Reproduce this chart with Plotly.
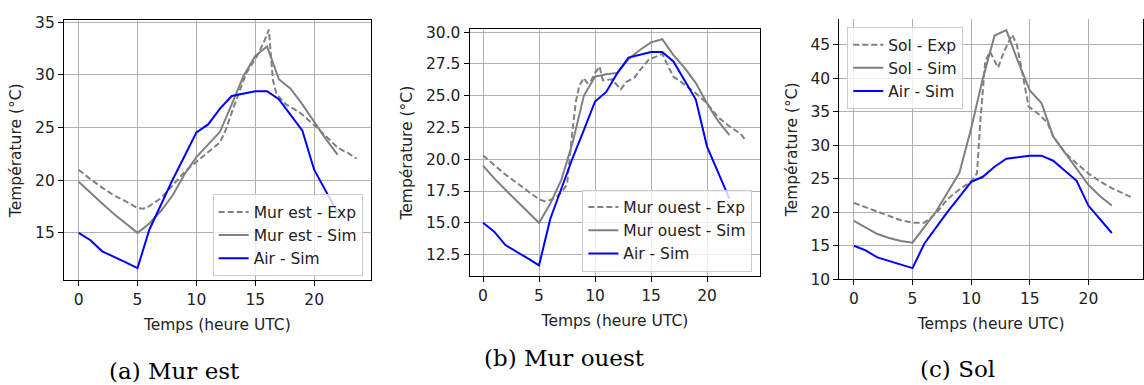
import plotly.graph_objects as go

# heures de simulation (pas horaire)
hours_sim = list(range(0, 23))

# air - simulation (identique sur les 3 panneaux)
air_sim = [15.0, 14.3, 13.25, 12.75, 12.2, 11.65, 15.3, 17.7, 20.1, 22.3, 24.55, 25.3,
           26.8, 28.0, 28.2, 28.45, 28.45, 27.7, 26.2, 24.7, 21.0, 18.9, 16.9]

# (a) mur est
est_sim = [19.85, 18.8, 17.8, 16.8, 15.9, 15.0, 15.9, 17.1, 18.6, 20.6, 22.2, 23.4,
           24.6, 27.2, 29.9, 31.8, 32.7, 29.6, 28.7, 27.2, 25.5, 23.9, 22.4]
est_exp_t = [0, 1, 2, 3, 4, 5, 5.5, 6, 7, 8, 9, 10, 11, 12, 12.5, 13.1, 14.2, 15.2, 15.8,
             16.15, 16.5, 16.8, 17.6, 18.75, 20, 21, 22, 23, 23.6]
est_exp = [21.0, 20.1, 19.3, 18.55, 18.0, 17.35, 17.3, 17.55, 18.3, 19.5, 20.8, 21.75, 22.65,
           23.6, 24.8, 26.75, 30.1, 31.9, 33.3, 34.3, 29.5, 28.2, 27.2, 26.45, 25.25, 24.2,
           23.1, 22.5, 22.05]

# (b) mur ouest
ouest_sim = [19.5, 18.5, 17.6, 16.75, 15.9, 15.0, 16.5, 18.4, 21.3, 25.0, 26.5, 26.7,
             26.8, 27.9, 28.6, 29.2, 29.45, 28.2, 27.2, 26.0, 24.4, 23.0, 21.9]
ouest_exp_t = [0, 1, 2, 3, 4, 5, 5.5, 6, 6.5, 7, 7.5, 7.8, 8.0, 8.3, 8.6, 9.0, 9.3, 9.6, 10.0,
               10.4, 10.7, 11.5, 12.3, 12.8, 13.5, 14.0, 14.8, 15.5, 16.0, 16.6, 17.0, 17.5,
               18.2, 19.0, 20.0, 21.0, 22.0, 23.0, 23.5]
ouest_exp = [20.3, 19.55, 18.8, 18.15, 17.5, 16.85, 16.7, 16.8, 17.0, 17.4, 18.0, 20.8, 22.4,
             24.6, 25.8, 26.4, 26.0, 26.1, 26.8, 27.3, 26.2, 26.3, 25.5, 26.1, 26.4, 27.0,
             27.85, 28.1, 28.3, 27.2, 26.5, 26.2, 25.7, 25.2, 24.4, 23.3, 22.6, 22.0, 21.45]

# (c) sol
sol_sim = [18.7, 17.7, 16.75, 16.15, 15.7, 15.45, 17.7, 20.1, 23.0, 25.9, 32.5, 40.0,
           46.4, 47.2, 42.5, 38.2, 36.3, 31.3, 28.9, 26.5, 24.1, 22.4, 21.0]
sol_exp_t = [0, 1, 2, 3, 4, 5, 6, 7, 8, 9, 10, 10.5, 10.8, 11.2, 11.6, 12.3, 12.8, 13.5,
             13.9, 14.5, 14.9, 15.8, 16.5, 17, 18, 19, 20, 21, 22, 23, 23.6]
sol_exp = [21.4, 20.75, 20.1, 19.4, 18.8, 18.45, 18.45, 19.8, 22.0, 23.4, 24.6, 25.8, 34.0,
           42.5, 44.0, 41.6, 44.0, 46.5, 45.0, 39.6, 35.8, 34.6, 33.4, 31.3, 28.9, 27.3,
           25.8, 24.6, 23.6, 22.8, 22.3]

GRAY = "#808080"
BLUE = "#0000ff"
W, H = 1144, 385
FS = 15.5

panels = [
    # name, exp_t, exp, sim, x px (left, right), y px (top, bottom), x range, y range, y ticks
    ("Mur est", est_exp_t, est_exp, est_sim, (64, 371), (14, 285), [-1.25, 24.8], [10.51, 35.18],
     [15, 20, 25, 30, 35], "d"),
    ("Mur ouest", ouest_exp_t, ouest_exp, ouest_sim, (470, 761), (23, 281), [-1.2, 24.76], [10.79, 30.25],
     [12.5, 15, 17.5, 20, 22.5, 25, 27.5, 30], ".1f"),
    ("Sol", sol_exp_t, sol_exp, sol_sim, (840, 1144), (13, 284), [-1.25, 24.66], [10, 48.8],
     [10, 15, 20, 25, 30, 35, 40, 45], "d"),
]

fig = go.Figure()
layout = dict(width=W, height=H, margin=dict(l=0, r=0, t=0, b=0),
              paper_bgcolor="white", plot_bgcolor="white",
              font=dict(family="DejaVu Sans", size=FS, color="#222"),
              annotations=[])

legend_pos = [
    dict(x=363 / W, y=(H - 281) / H, xanchor="right", yanchor="bottom"),
    dict(x=753 / W, y=(H - 276) / H, xanchor="right", yanchor="bottom"),
    dict(x=848 / W, y=(H - 21) / H, xanchor="left", yanchor="top"),
]

for i, (name, et, ev, sv, xp, yp, xr, yr, yt, fmt) in enumerate(panels):
    n = "" if i == 0 else str(i + 1)
    leg = "legend" + n
    xa, ya = "x" + n, "y" + n
    fig.add_trace(go.Scatter(x=et, y=ev, mode="lines", name=name + " - Exp", legend=leg,
                             line=dict(color=GRAY, width=2, dash="6px,3px"), xaxis=xa, yaxis=ya))
    fig.add_trace(go.Scatter(x=hours_sim, y=sv, mode="lines", name=name + " - Sim", legend=leg,
                             line=dict(color=GRAY, width=2), xaxis=xa, yaxis=ya))
    fig.add_trace(go.Scatter(x=hours_sim, y=air_sim, mode="lines", name="Air - Sim", legend=leg,
                             line=dict(color=BLUE, width=2), xaxis=xa, yaxis=ya))

    layout["xaxis" + n] = dict(
        domain=[xp[0] / W, xp[1] / W], anchor=ya, range=xr,
        tickvals=[0, 5, 10, 15, 20], ticks="outside", ticklen=5, tickcolor="black",
        tickfont=dict(size=FS, color="#222"),
        showgrid=True, gridcolor="#b0b0b0", gridwidth=1, zeroline=False,
        showline=True, linecolor="black", linewidth=1, mirror=(i < 2),
        title=dict(text="Temps (heure UTC)", standoff=11, font=dict(size=FS)),
    )
    layout["yaxis" + n] = dict(
        domain=[(H - yp[1]) / H, (H - yp[0]) / H], anchor=xa, range=yr,
        tickvals=yt, tickformat=fmt, ticks="outside", ticklen=5, tickcolor="black",
        tickfont=dict(size=FS, color="#222"),
        showgrid=True, gridcolor="#b0b0b0", gridwidth=1, zeroline=False,
        showline=True, linecolor="black", linewidth=1, mirror=True,
        title=dict(text="Température (°C)", standoff=9, font=dict(size=FS)),
    )
    layout[leg] = dict(**legend_pos[i], bgcolor="rgba(255,255,255,0.8)",
                       bordercolor="#cccccc", borderwidth=1,
                       font=dict(size=FS, color="#222"), tracegroupgap=0)

# les sous-titres
captions = [("(a) Mur est", 175, 380), ("(b) Mur ouest", 565, 366), ("(c) Sol", 958, 378)]
for txt, cx, cy in captions:
    layout["annotations"].append(dict(
        text=txt, x=cx / W, y=(H - cy) / H, xref="paper", yref="paper",
        xanchor="center", yanchor="middle", showarrow=False,
        font=dict(family="DejaVu Serif", size=23, color="black")))

fig.update_layout(**layout)
# pas de marge autour de la figure dans la page, pas de barre d'outils
fig.write_html("out.html", config={"displayModeBar": False},
               post_script="document.body.style.margin='0';")
